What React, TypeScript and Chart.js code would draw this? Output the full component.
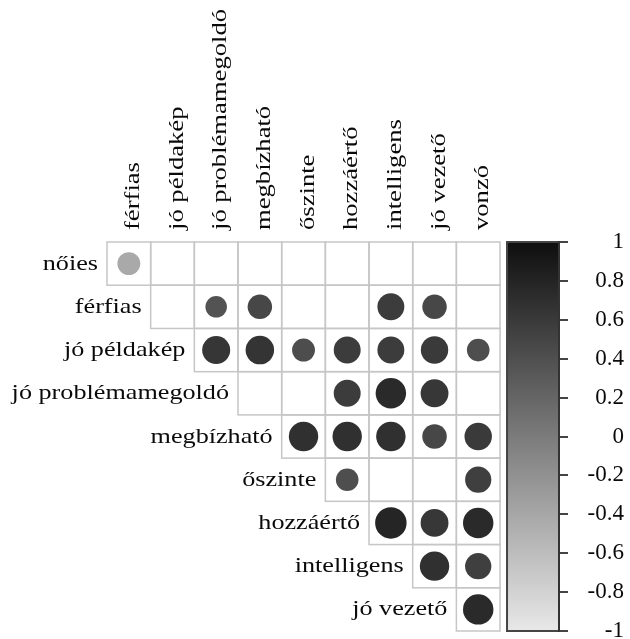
import { useEffect, useRef } from 'react';
import Chart from 'chart.js/auto';

const rowLabels = ['nőies', 'férfias', 'jó példakép', 'jó problémamegoldó', 'megbízható', 'őszinte', 'hozzáértő', 'intelligens', 'jó vezető'];
const colLabels = ['férfias', 'jó példakép', 'jó problémamegoldó', 'megbízható', 'őszinte', 'hozzáértő', 'intelligens', 'jó vezető', 'vonzó'];

// Each row lists correlations from the column equal to the row index up to the last column.
// null = empty (non-significant) cell.
const rowNoies = [-0.42, null, null, null, null, null, null, null, null];
const rowFerfias = [null, 0.37, 0.48, null, null, 0.58, 0.48, null];
const rowPeldakep = [0.63, 0.65, 0.42, 0.58, 0.58, 0.6, 0.41];
const rowProblemamegoldo = [null, null, 0.58, 0.74, 0.62, null];
const rowMegbizhato = [0.69, 0.69, 0.69, 0.48, 0.6];
const rowOszinte = [0.41, null, null, 0.55];
const rowHozzaerto = [0.79, 0.62, 0.74];
const rowIntelligens = [0.69, 0.55];
const rowJoVezeto = [0.74];

const colorbarTicks = [1, 0.8, 0.6, 0.4, 0.2, 0, -0.2, -0.4, -0.6, -0.8, -1];

const rows: (number | null)[][] = [rowNoies, rowFerfias, rowPeldakep, rowProblemamegoldo, rowMegbizhato, rowOszinte, rowHozzaerto, rowIntelligens, rowJoVezeto];

const N = colLabels.length;
const X_MAX = 10.35;
const CB_LEFT = 9.16;
const FONT = "'Liberation Serif'";
const ROW_STRETCH = 1.19;
const COL_STRETCH = 1.21;

function grayFor(v: number) {
  const g = Math.round(14 + ((1 - v) / 2) * 218);
  return `rgb(${g},${g},${g})`;
}

const corrPlugin = {
  id: 'corrplot',
  beforeDraw(chart: any) {
    const { ctx, chartArea } = chart;
    const x = chart.scales.x;
    const y = chart.scales.y;
    const cb = chart.scales.cb;
    ctx.save();
    ctx.strokeStyle = '#c6c6c6';
    ctx.lineWidth = 1.5;
    for (let i = 0; i < N; i++) {
      for (let j = i; j < N; j++) {
        const x0 = x.getPixelForValue(j);
        const x1 = x.getPixelForValue(j + 1);
        const y0 = y.getPixelForValue(i);
        const y1 = y.getPixelForValue(i + 1);
        ctx.strokeRect(x0, y0, x1 - x0, y1 - y0);
      }
    }
    const top = cb.getPixelForValue(1);
    const bot = cb.getPixelForValue(-1);
    const left = x.getPixelForValue(CB_LEFT);
    const right = chartArea.right;
    const grad = ctx.createLinearGradient(0, top, 0, bot);
    grad.addColorStop(0, grayFor(1));
    grad.addColorStop(1, grayFor(-1));
    ctx.fillStyle = grad;
    ctx.fillRect(left, top, right - left, bot - top);
    ctx.strokeStyle = '#444';
    ctx.lineWidth = 2;
    ctx.strokeRect(left, top, right - left, bot - top);
    ctx.restore();
  },
  afterDraw(chart: any) {
    const { ctx } = chart;
    const x = chart.scales.x;
    const y = chart.scales.y;
    ctx.save();
    ctx.fillStyle = '#0a0a0a';
    ctx.font = `22px ${FONT}`;
    ctx.textBaseline = 'alphabetic';
    rowLabels.forEach((label, i) => {
      ctx.save();
      ctx.translate(x.getPixelForValue(i) - 9, y.getPixelForValue(i + 0.5) + 6);
      ctx.scale(ROW_STRETCH, 1);
      ctx.textAlign = 'right';
      ctx.fillText(label, 0, 0);
      ctx.restore();
    });
    colLabels.forEach((label, j) => {
      ctx.save();
      ctx.translate(x.getPixelForValue(j + 0.5) + 10, y.getPixelForValue(0) - 12);
      ctx.rotate(-Math.PI / 2);
      ctx.scale(COL_STRETCH, 1);
      ctx.textAlign = 'left';
      ctx.fillText(label, 0, 0);
      ctx.restore();
    });
    ctx.restore();
  },
};

export default function App() {
  const ref = useRef<HTMLCanvasElement>(null);

  useEffect(() => {
    if (!ref.current) return;
    const points: { x: number; y: number; v: number }[] = [];
    rows.forEach((vals, i) => {
      vals.forEach((v, k) => {
        if (v !== null) points.push({ x: i + k + 0.5, y: i + 0.5, v });
      });
    });
    const radiusFor = (c: any) => {
      const xs = c.chart.scales.x;
      const cell = Math.abs(xs.getPixelForValue(1) - xs.getPixelForValue(0));
      return 0.405 * cell * Math.sqrt(Math.abs(c.raw ? c.raw.v : 0));
    };

    const chart = new Chart(ref.current, {
      type: 'scatter',
      data: {
        datasets: [
          {
            data: points as any,
            pointRadius: radiusFor,
            pointHoverRadius: radiusFor,
            pointBackgroundColor: (c: any) => grayFor(c.raw ? c.raw.v : 0),
            pointBorderWidth: 0,
            showLine: false,
          },
        ],
      },
      options: {
        responsive: false,
        animation: false,
        events: [],
        layout: { padding: { left: 107, top: 242, right: 6, bottom: 8 } },
        plugins: { legend: { display: false }, tooltip: { enabled: false } },
        scales: {
          x: { type: 'linear', min: 0, max: X_MAX, display: false },
          y: { type: 'linear', min: 0, max: 9, reverse: true, display: false },
          cb: {
            type: 'linear',
            axis: 'y',
            position: 'right',
            min: -1,
            max: 1,
            afterBuildTicks: (s: any) => {
              s.ticks = colorbarTicks.map((v) => ({ value: v }));
            },
            afterFit: (s: any) => {
              s.width = 65;
              s.paddingTop = 0;
              s.paddingBottom = 0;
            },
            ticks: {
              callback: (v: any) => String(v),
              font: { family: FONT, size: 23 },
              color: '#0a0a0a',
              padding: 20,
              crossAlign: 'far',
              autoSkip: false,
            },
            grid: { drawOnChartArea: false, drawTicks: true, tickLength: 9, color: '#444', lineWidth: 2 },
            border: { display: true, color: '#333', width: 2 },
          },
        },
      } as any,
      plugins: [corrPlugin],
    });
    return () => chart.destroy();
  }, []);

  return (
    <div style={{ position: 'absolute', left: 0, top: 0, width: 630, height: 639, background: '#fff' }}>
      <canvas ref={ref} width={630} height={639} style={{ display: 'block' }} />
    </div>
  );
}
